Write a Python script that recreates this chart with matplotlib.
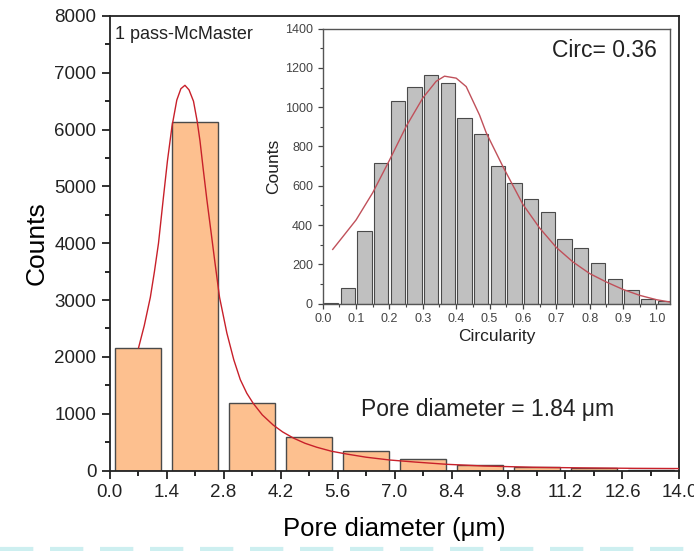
import numpy as np
import matplotlib.pyplot as plt
from matplotlib.ticker import MultipleLocator, FormatStrFormatter
from matplotlib.lines import Line2D

plt.rcParams['font.family'] = ['Liberation Sans', 'DejaVu Sans']

# main histogram: pore diameter (um)
pore_centers = [0.7, 2.1, 3.5, 4.9, 6.3, 7.7, 9.1, 10.5, 11.9, 13.3]
pore_counts = [2160, 6140, 1190, 585, 340, 200, 95, 60, 40, 15]

# fitted curve
fit_x = [0.71, 0.85, 1.0, 1.1, 1.2, 1.32, 1.42, 1.53, 1.65, 1.75, 1.85, 1.95,
         2.06, 2.15, 2.22, 2.3, 2.39, 2.5, 2.58, 2.7, 2.88, 3.05, 3.21, 3.37,
         3.53, 3.75, 4.02, 4.25, 4.52, 4.8, 5.09, 5.45, 5.83, 6.3, 6.89, 7.5,
         8.28, 9.2, 10.4, 11.6, 12.9, 14.0]
fit_y = [2160, 2550, 3050, 3500, 4000, 4800, 5450, 6050, 6520, 6720, 6780, 6700,
         6500, 6150, 5800, 5300, 4760, 4150, 3700, 3050, 2420, 1950, 1600, 1360,
         1180, 980, 800, 680, 570, 480, 410, 340, 290, 235, 185, 150,
         110, 80, 58, 47, 39, 35]

# inset histogram: circularity
circ_centers = [0.025, 0.075, 0.125, 0.175, 0.225, 0.275, 0.325, 0.375, 0.425,
                0.475, 0.525, 0.575, 0.625, 0.675, 0.725, 0.775, 0.825, 0.875,
                0.925, 0.975, 1.025]
circ_counts = [3, 80, 370, 715, 1030, 1105, 1165, 1122, 943, 862, 703, 616,
               531, 467, 329, 283, 208, 124, 68, 22, 13]

circ_fit_x = [0.03, 0.06, 0.10, 0.15, 0.20, 0.25, 0.30, 0.34, 0.365, 0.40, 0.43,
              0.47, 0.49, 0.54, 0.60, 0.65, 0.70, 0.75, 0.80, 0.85, 0.90,
              0.95, 1.00, 1.04]
circ_fit_y = [276, 340, 426, 565, 730, 902, 1047, 1132, 1158, 1148, 1105,
              960, 870, 698, 505, 385, 286, 212, 153, 110, 72,
              42, 20, 8]

fig = plt.figure(figsize=(6.94, 5.51), dpi=100)
ax = fig.add_axes([0.158, 0.146, 0.821, 0.825])

ax.bar(pore_centers, pore_counts, width=1.14, color='#fdc08f',
       edgecolor='#4a4a4a', linewidth=1.0, zorder=2)
ax.plot(fit_x, fit_y, color='#c8202a', linewidth=1.0, zorder=3)

ax.set_xlim(0, 14)
ax.set_ylim(0, 8000)
ax.xaxis.set_major_locator(MultipleLocator(1.4))
ax.xaxis.set_minor_locator(MultipleLocator(0.7))
ax.xaxis.set_major_formatter(FormatStrFormatter('%.1f'))
ax.yaxis.set_major_locator(MultipleLocator(1000))
ax.yaxis.set_minor_locator(MultipleLocator(500))
ax.tick_params(which='major', direction='out', length=6, width=1.3,
               labelsize=13.5, colors='#222222')
ax.tick_params(which='minor', direction='out', length=3.5, width=1.2)
for s in ax.spines.values():
    s.set_linewidth(1.3)
    s.set_color('#222222')
ax.set_xlabel('Pore diameter (μm)', fontsize=18.5, labelpad=12)
ax.set_ylabel('Counts', fontsize=19, labelpad=4)

ax.text(0.009, 0.978, '1 pass-McMaster', transform=ax.transAxes,
        fontsize=13, va='top', ha='left', color='#222222')
ax.text(0.442, 0.135, 'Pore diameter = 1.84 μm', transform=ax.transAxes,
        fontsize=16.5, va='center', ha='left', color='#222222')

# inset
ins = fig.add_axes([0.465, 0.449, 0.501, 0.499])
ins.bar(circ_centers, circ_counts, width=0.043, color='#c0c0c0',
        edgecolor='#4a4a4a', linewidth=0.8, zorder=2)
ins.plot(circ_fit_x, circ_fit_y, color='#c0505a', linewidth=1.0, zorder=3)
ins.set_xlim(0, 1.042)
ins.set_ylim(0, 1400)
ins.xaxis.set_major_locator(MultipleLocator(0.1))
ins.xaxis.set_minor_locator(MultipleLocator(0.05))
ins.xaxis.set_major_formatter(FormatStrFormatter('%.1f'))
ins.yaxis.set_major_locator(MultipleLocator(200))
ins.yaxis.set_minor_locator(MultipleLocator(100))
ins.tick_params(which='major', direction='out', length=3.5, width=0.9,
                labelsize=9, colors='#444444')
ins.tick_params(which='minor', direction='out', length=2, width=0.8,
                colors='#444444')
for s in ins.spines.values():
    s.set_linewidth(1.0)
    s.set_color('#555555')
ins.set_xlabel('Circularity', fontsize=12.5, color='#222222', labelpad=3)
ins.set_ylabel('Counts', fontsize=12.5, color='#222222', labelpad=3)
ins.text(0.96, 0.92, 'Circ= 0.36', transform=ins.transAxes,
         fontsize=16.5, ha='right', va='center', color='#222222')

# faint dashed strip along the bottom edge of the scan
fig.add_artist(Line2D([0.0, 1.0], [0.004, 0.004], transform=fig.transFigure,
                      color='#cdeff0', linewidth=3, dashes=(8, 4)))

fig.savefig('out.png', dpi=100)
